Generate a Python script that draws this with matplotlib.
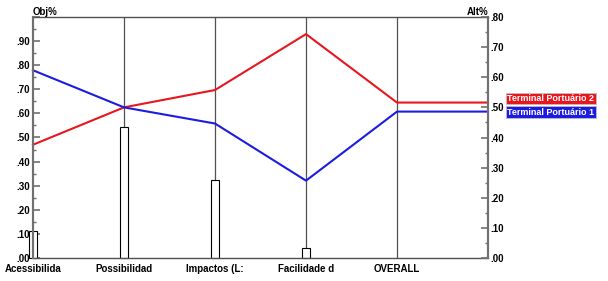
import matplotlib
matplotlib.use("Agg")
import matplotlib.pyplot as plt
from matplotlib.ticker import MultipleLocator, FuncFormatter

criteria = ["Acessibilida", "Possibilidad", "Impactos (L:", "Facilidade d"]
overall_label = "OVERALL"
obj_weights = [0.113, 0.543, 0.325, 0.040]
alt2_scores = [0.470, 0.625, 0.697, 0.929]   # Terminal Portuário 2 (red)
alt1_scores = [0.779, 0.625, 0.558, 0.321]   # Terminal Portuário 1 (blue)
overall_alt2 = 0.516
overall_alt1 = 0.486
series_names = ["Terminal Portuário 2", "Terminal Portuário 1"]

RED = "#e8161e"
BLUE = "#1c1ce0"
GRID = "#505050"
AXC = "#707070"
FS = 7

plt.rcParams['font.family'] = ['Liberation Sans', 'DejaVu Sans']

fig = plt.figure(figsize=(6.08, 2.81), dpi=100)
ax = fig.add_axes([33/608, 1-258/281, 455/608, 241/281])
ax2 = ax.twinx()

n = len(criteria)
ax.set_xlim(0, n + 1)
ax.set_ylim(0, 1.0)
ax2.set_ylim(0, 0.8)

# vertical category lines
for i in range(1, n + 1):
    ax.axvline(i, color=GRID, lw=0.9, zorder=1)

# bars (objective weights)
ax.bar(range(n), obj_weights, width=0.08, color="white", edgecolor="black",
       linewidth=0.8, zorder=2, clip_on=False)

# convert overall (right scale) to left scale through transforms
def right_to_left(x, v):
    disp = ax2.transData.transform((x, v))
    return ax.transData.inverted().transform(disp)[1]

xs = list(range(n + 2))
ov2 = right_to_left(n, overall_alt2)
ov1 = right_to_left(n, overall_alt1)
ax.plot(xs, alt2_scores + [ov2, ov2], color=RED, lw=1.5, zorder=3, clip_on=False)
ax.plot(xs, alt1_scores + [ov1, ov1], color=BLUE, lw=1.5, zorder=3, clip_on=False)

# axes styling
for sp in ["left", "right"]:
    ax.spines[sp].set_color(AXC)
    ax.spines[sp].set_linewidth(1.5)
    ax2.spines[sp].set_color(AXC)
    ax2.spines[sp].set_linewidth(1.5)
for sp in ["top", "bottom"]:
    ax.spines[sp].set_color(GRID)
    ax.spines[sp].set_linewidth(1.0)
    ax2.spines[sp].set_visible(False)

fmt = FuncFormatter(lambda v, p: f"{v:.2f}"[1:] if v < 0.999 else "")
ax.yaxis.set_major_locator(MultipleLocator(0.1))
ax.yaxis.set_minor_locator(MultipleLocator(0.05))
ax.yaxis.set_major_formatter(fmt)
ax2.yaxis.set_major_locator(MultipleLocator(0.1))
ax2.yaxis.set_minor_locator(MultipleLocator(0.05))
ax2.yaxis.set_major_formatter(FuncFormatter(lambda v, p: f"{v:.2f}"[1:]))

ax.tick_params(axis="y", which="major", direction="in", length=5, width=1.2,
               color=AXC, labelsize=FS, pad=2)
ax.tick_params(axis="y", which="minor", direction="in", length=2.5, width=1.0, color=AXC)
ax2.tick_params(axis="y", which="major", direction="in", length=5, width=1.2,
                color=AXC, labelsize=FS, pad=2)
ax2.tick_params(axis="y", which="minor", direction="in", length=2.5, width=1.0, color=AXC)
for lab in ax.get_yticklabels() + ax2.get_yticklabels():
    lab.set_fontweight("bold")

ax.set_xticks(range(n + 1))
ax.set_xticklabels(criteria + [overall_label], fontsize=FS, fontweight="bold")
ax.tick_params(axis="x", length=0, pad=4)

# axis titles
ax.text(0, 1.0, "Obj%", transform=ax.transAxes, ha="left", va="bottom",
        fontsize=FS, fontweight="bold")
ax.text(1.0, 1.0, "Alt%", transform=ax.transAxes, ha="right", va="bottom",
        fontsize=FS, fontweight="bold")

# legend labels
ax2.annotate(series_names[0], xy=(n + 1, overall_alt2), xytext=(14, 3),
             textcoords="offset points", ha="left", va="center", fontsize=6.5,
             fontweight="bold", color="white", annotation_clip=False,
             bbox=dict(boxstyle="square,pad=0.15", fc=RED, ec="#c0c0c0", lw=0.6))
ax2.annotate(series_names[1], xy=(n + 1, overall_alt1), xytext=(14, -0.5),
             textcoords="offset points", ha="left", va="center", fontsize=6.5,
             fontweight="bold", color="white", annotation_clip=False,
             bbox=dict(boxstyle="square,pad=0.15", fc=BLUE, ec="#c0c0c0", lw=0.6))

fig.savefig("out.png", dpi=100)
